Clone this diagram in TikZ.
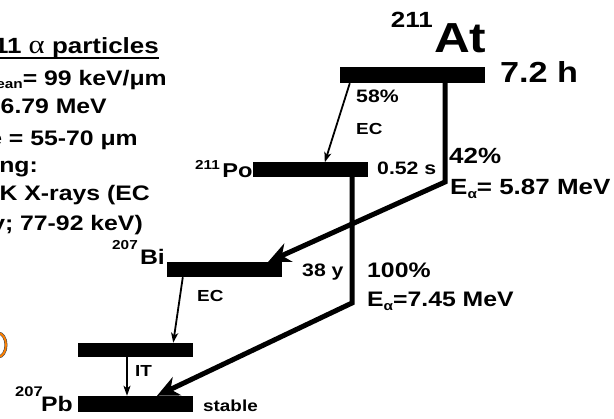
\documentclass[tikz,border=0pt]{standalone}
\usepackage{fontspec}
\setmainfont{Liberation Sans}[FakeStretch=1.18]
\newfontfamily\greekserif{Liberation Serif}[FakeStretch=1.18]
\usetikzlibrary{arrows.meta}
\usetikzlibrary{positioning}
\newcommand\fs[1]{\fontsize{#1}{#1}\selectfont}
\newcommand\lowsub[2]{\raisebox{-#1pt}{\fs{13}#2}}
\tikzset{
scheme/.style={x=1pt,y=-1pt}, % one unit = one pixel of the slide
level/.style={fill=black,inner sep=0,minimum width=115pt,minimum height=15pt},
txt/.style={inner sep=0,anchor=base west,font=\bfseries\fs{#1}},
ec arrow/.style={line width=1.8pt,-{Stealth[length=10pt,width=7pt,inset=2.5pt]}},
alpha path/.style={line width=5pt,line join=miter,-{Stealth[length=22pt,width=20pt,inset=7pt]}},
}
\begin{document}
\begin{tikzpicture}[scheme]
\useasboundingbox (0,0) rectangle (614,419);
\clip (0,0) rectangle (614,419);
% energy levels
\node[level,minimum width=145pt,minimum height=16pt] (at) at (412.5,75) {};
\node[level] (po) at (310.5,170) {};
\node[level] (bi) at (224.5,269.5) {};
\node[level,minimum height=14pt] (it) at (135.5,350) {};
\node[level,minimum height=16pt] (pb) at (135.5,404) {};
% nuclide names and half-lives
\node[txt=42] (atname) at (434,53) {At};
\node[txt=22,anchor=base east] (atmass) at (433,28) {211};
\node[txt=29] (athalf) at (500,83) {7.2 h};
\node[txt=20,anchor=base east] (poname) at (po.south west) {Po};
\node[txt=13,anchor=base east] (pomass) at (220,170) {211};
\node[txt=18] (pohalf) at (377,175) {0.52 s};
\node[txt=21,anchor=base east] (biname) at (165,265) {Bi};
\node[txt=13,anchor=base east] (bimass) at (138,250) {207};
\node[txt=18] (bihalf) at (302,277) {38 y};
\node[txt=21,anchor=base east] (pbname) at (73,412) {Pb};
\node[txt=14,anchor=base east] (pbmass) at (43,397) {207};
\node[txt=16] (pbhalf) at (203,412) {stable};
% branch labels
\node[txt=18] (ecpct) at (356,103) {58\%};
\node[txt=16] (ecup) at (356,135) {EC};
\node[txt=22] (apct1) at (449,164) {42\%};
\node[txt=22] (aen1) at (450,195) {E\lowsub{4}{α}= 5.87 MeV};
\node[txt=21] (apct2) at (367,278) {100\%};
\node[txt=21] (aen2) at (367,307) {E\lowsub{4}{α}=7.45 MeV};
\node[txt=16] (ecdown) at (197,302) {EC};
\node[txt=16] (itlbl) at (135,377) {IT};
% decays
\coordinate (knee1) at (445,182);
\coordinate (knee2) at (352,303);
\draw[alpha path] ([xshift=32.5pt]at.center) -- (knee1) -- ([xshift=-14pt]bi.north east);
\draw[alpha path] ([xshift=41.5pt]po.center) -- (knee2) -- ([xshift=21.5pt]pb.north);
\draw[ec arrow] ([xshift=10pt]at.south west) -- ([xshift=72pt]po.north west);
\draw[ec arrow] ([xshift=16pt]bi.south west) -- ([xshift=-20pt]it.north east);
\draw[ec arrow] ([xshift=-8.5pt]it.south) -- ([xshift=-8.5pt]pb.north);
% text block cut by the left edge
\node[txt=22,anchor=base east] (title) at (159,54) {11 {\greekserif\mdseries\fs{26}α} particles};
\draw[line width=2pt] ([yshift=-4pt]title.base west) -- ([yshift=-4pt]title.base east);
\node[txt=21,anchor=base east] (letline) at (167,86) {\lowsub{3}{ean}= 99 keV/μm};
\node[txt=21,anchor=base east] (enline) at (107,114) {6.79 MeV};
\node[txt=21,anchor=base east] (rangeline) at (138,146) {e = 55-70 μm};
\node[txt=21,anchor=base east] (imgline) at (38,173) {ng:};
\node[txt=21,anchor=base east] (xrayline) at (150,201) {K X-rays (EC};
\node[txt=21,anchor=base east] (kevline) at (143,231) {y; 77-92 keV)};
\draw[black!70,line width=3pt] (-2,345) ellipse [x radius=8,y radius=12];
\draw[orange,line width=1.8pt] (-2,345) ellipse [x radius=8,y radius=12];
\end{tikzpicture}
\end{document}
